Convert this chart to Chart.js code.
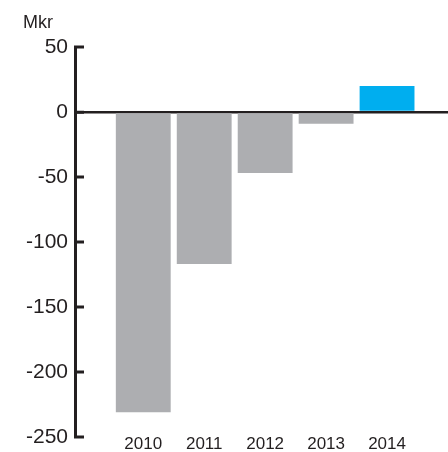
<!DOCTYPE html>
<html>
<head>
<meta charset="utf-8">
<script src="https://cdn.jsdelivr.net/npm/chart.js@4"></script>
<style>
    html, body { margin: 0; padding: 0; background: #ffffff; }
    #wrap { width: 448px; height: 452px; }
</style>
</head>
<body>
<div id="wrap"><canvas id="grafico"></canvas></div>
<script>

const anios = ['2010', '2011', '2012', '2013', '2014'];
const resultado = [-231, -117, -47, -9, 20];
const colores = ['#adaeb1', '#adaeb1', '#adaeb1', '#adaeb1', '#00aeef'];
const ticksY = [50, 0, -50, -100, -150, -200, -250];

const oscuro = '#231f20';

const ctx = document.getElementById('grafico').getContext('2d');

const chart = new Chart(ctx, {
    type: 'bar',
    data: {
        datasets: [{
            data: resultado.map((v, i) => ({ x: i, y: v })),
            backgroundColor: colores,
            borderWidth: 0,
            barPercentage: 0.9,
            categoryPercentage: 1
        }]
    },
    options: {
        responsive: true,
        maintainAspectRatio: false,
        animation: false,
        layout: {
            padding: { left: 23, right: 0, top: 0, bottom: -10 }
        },
        plugins: {
            legend: { display: false },
            tooltip: { enabled: false },
            title: {
                display: true,
                text: 'Mkr',
                align: 'start',
                color: oscuro,
                font: { family: 'Liberation Sans', size: 18, weight: 'normal' },
                padding: { top: 12, bottom: 13.4 }
            }
        },
        scales: {
            x: {
                type: 'linear',
                min: -1.12,
                max: 5.0,
                offset: false,
                border: { display: false },
                grid: { display: false, drawTicks: false },
                afterBuildTicks: function(scale) {
                    scale.ticks = anios.map((_, i) => ({ value: i }));
                },
                afterFit: function(scale) {
                    scale.height = 25;
                    scale.paddingLeft = 0;
                    scale.paddingRight = 0;
                },
                ticks: {
                    padding: -1,
                    color: oscuro,
                    font: { family: 'Liberation Sans', size: 17, lineHeight: 1 },
                    maxRotation: 0,
                    autoSkip: false,
                    callback: function(value) {
                        return anios[value];
                    }
                }
            },
            y: {
                min: -250,
                max: 50,
                z: 1,
                border: { display: true, color: oscuro, width: 3 },
                afterBuildTicks: function(scale) {
                    scale.ticks = ticksY.map(v => ({ value: v }));
                },
                afterFit: function(scale) {
                    scale.width = 52;
                    scale.paddingTop = 0;
                    scale.paddingBottom = 0;
                },
                grid: {
                    drawOnChartArea: true,
                    drawTicks: true,
                    tickLength: -9,
                    tickColor: oscuro,
                    tickWidth: 3,
                    color: function(c) {
                        return c.tick && c.tick.value === 0 ? oscuro : 'rgba(0,0,0,0)';
                    },
                    lineWidth: function(c) {
                        return c.tick && c.tick.value === 0 ? 2.5 : 0;
                    }
                },
                ticks: {
                    padding: 16,
                    color: oscuro,
                    font: { family: 'Liberation Sans', size: 21 }
                }
            }
        }
    }
});
</script>
</body>
</html>
